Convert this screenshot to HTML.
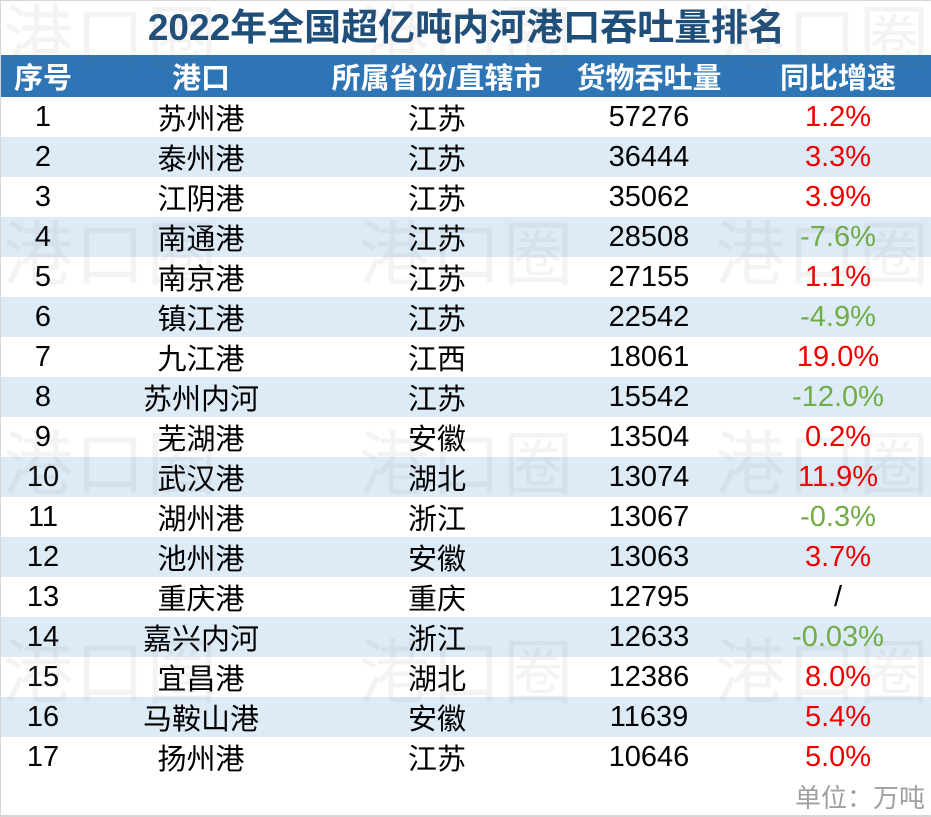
<!DOCTYPE html>
<html><head><meta charset="utf-8"><style>
*{margin:0;padding:0;box-sizing:border-box}
html,body{width:931px;height:817px;background:#fff;overflow:hidden}
#c{position:relative;width:931px;height:817px;font-family:"Liberation Sans","Noto Sans CJK SC",sans-serif;border-left:1px solid #d6d6d6;border-top:1px solid #d6d6d6;border-bottom:2px solid #d6d6d6;}
.title{position:absolute;left:0;top:0;width:931px;height:54px;line-height:54px;text-align:center;font-size:37px;font-weight:bold;color:#1f4e79;letter-spacing:0px}
.hdr{position:absolute;left:0;top:54px;width:931px;height:42px;background:#2e75b6}
.row{position:absolute;left:0;width:931px;height:40px}
.alt{background:#ddebf7}
.cell{position:absolute;text-align:center;white-space:nowrap;top:0;height:100%;display:flex;align-items:center;justify-content:center}
.h .cell{color:#fff;font-weight:bold;font-size:29px}
.b .cell{color:#000;font-size:29px}
.r{color:#ee0000!important}
.g{color:#70ad47!important}
.c1{left:2px;width:80px}
.c2{left:120px;width:160px}
.c3{left:316px;width:240px}
.c4{left:568px;width:160px}
.c5{left:757px;width:160px}
.wm{position:absolute;font-size:70px;color:rgba(120,120,120,0.09);font-family:"Noto Sans CJK SC",sans-serif;white-space:nowrap;letter-spacing:2px;line-height:70px;pointer-events:none}
.foot{position:absolute;right:6px;top:778px;font-size:26px;color:#a0a0a0;line-height:38px}
</style></head><body><div id="c">
<div class="title">2022年全国超亿吨内河港口吞吐量排名</div>
<div class="hdr h"><div class="cell c1">序号</div><div class="cell c2">港口</div><div class="cell c3">所属省份/直辖市</div><div class="cell c4">货物吞吐量</div><div class="cell c5">同比增速</div></div>

<div class="row b" style="top:96px"><div class="cell c1">1</div><div class="cell c2">苏州港</div><div class="cell c3">江苏</div><div class="cell c4">57276</div><div class="cell c5 r">1.2%</div></div>
<div class="row b alt" style="top:136px"><div class="cell c1">2</div><div class="cell c2">泰州港</div><div class="cell c3">江苏</div><div class="cell c4">36444</div><div class="cell c5 r">3.3%</div></div>
<div class="row b" style="top:176px"><div class="cell c1">3</div><div class="cell c2">江阴港</div><div class="cell c3">江苏</div><div class="cell c4">35062</div><div class="cell c5 r">3.9%</div></div>
<div class="row b alt" style="top:216px"><div class="cell c1">4</div><div class="cell c2">南通港</div><div class="cell c3">江苏</div><div class="cell c4">28508</div><div class="cell c5 g">-7.6%</div></div>
<div class="row b" style="top:256px"><div class="cell c1">5</div><div class="cell c2">南京港</div><div class="cell c3">江苏</div><div class="cell c4">27155</div><div class="cell c5 r">1.1%</div></div>
<div class="row b alt" style="top:296px"><div class="cell c1">6</div><div class="cell c2">镇江港</div><div class="cell c3">江苏</div><div class="cell c4">22542</div><div class="cell c5 g">-4.9%</div></div>
<div class="row b" style="top:336px"><div class="cell c1">7</div><div class="cell c2">九江港</div><div class="cell c3">江西</div><div class="cell c4">18061</div><div class="cell c5 r">19.0%</div></div>
<div class="row b alt" style="top:376px"><div class="cell c1">8</div><div class="cell c2">苏州内河</div><div class="cell c3">江苏</div><div class="cell c4">15542</div><div class="cell c5 g">-12.0%</div></div>
<div class="row b" style="top:416px"><div class="cell c1">9</div><div class="cell c2">芜湖港</div><div class="cell c3">安徽</div><div class="cell c4">13504</div><div class="cell c5 r">0.2%</div></div>
<div class="row b alt" style="top:456px"><div class="cell c1">10</div><div class="cell c2">武汉港</div><div class="cell c3">湖北</div><div class="cell c4">13074</div><div class="cell c5 r">11.9%</div></div>
<div class="row b" style="top:496px"><div class="cell c1">11</div><div class="cell c2">湖州港</div><div class="cell c3">浙江</div><div class="cell c4">13067</div><div class="cell c5 g">-0.3%</div></div>
<div class="row b alt" style="top:536px"><div class="cell c1">12</div><div class="cell c2">池州港</div><div class="cell c3">安徽</div><div class="cell c4">13063</div><div class="cell c5 r">3.7%</div></div>
<div class="row b" style="top:576px"><div class="cell c1">13</div><div class="cell c2">重庆港</div><div class="cell c3">重庆</div><div class="cell c4">12795</div><div class="cell c5">/</div></div>
<div class="row b alt" style="top:616px"><div class="cell c1">14</div><div class="cell c2">嘉兴内河</div><div class="cell c3">浙江</div><div class="cell c4">12633</div><div class="cell c5 g">-0.03%</div></div>
<div class="row b" style="top:656px"><div class="cell c1">15</div><div class="cell c2">宜昌港</div><div class="cell c3">湖北</div><div class="cell c4">12386</div><div class="cell c5 r">8.0%</div></div>
<div class="row b alt" style="top:696px"><div class="cell c1">16</div><div class="cell c2">马鞍山港</div><div class="cell c3">安徽</div><div class="cell c4">11639</div><div class="cell c5 r">5.4%</div></div>
<div class="row b" style="top:736px"><div class="cell c1">17</div><div class="cell c2">扬州港</div><div class="cell c3">江苏</div><div class="cell c4">10646</div><div class="cell c5 r">5.0%</div></div>

<div class="foot">单位：万吨</div>

<div class="wm" style="left:2px;top:-2px">港口圈</div>
<div class="wm" style="left:358px;top:-2px">港口圈</div>
<div class="wm" style="left:714px;top:-2px">港口圈</div>
<div class="wm" style="left:2px;top:214px">港口圈</div>
<div class="wm" style="left:358px;top:214px">港口圈</div>
<div class="wm" style="left:714px;top:214px">港口圈</div>
<div class="wm" style="left:2px;top:424px">港口圈</div>
<div class="wm" style="left:358px;top:424px">港口圈</div>
<div class="wm" style="left:714px;top:424px">港口圈</div>
<div class="wm" style="left:2px;top:632px">港口圈</div>
<div class="wm" style="left:358px;top:632px">港口圈</div>
<div class="wm" style="left:714px;top:632px">港口圈</div>
</div></body></html>
